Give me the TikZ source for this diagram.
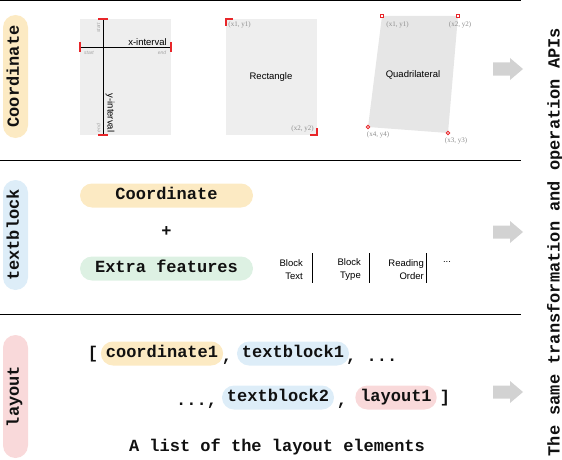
\documentclass[tikz,border=0pt]{standalone}
\usepackage{fontspec}
\setmainfont{Liberation Serif}
\setsansfont{Liberation Sans}
\setmonofont{Liberation Mono}
\usepackage{tikz}
\usetikzlibrary{positioning}
\definecolor{ink}{HTML}{111111}
\definecolor{cyel}{HTML}{FCEAC3}
\definecolor{cblue}{HTML}{DDEDF8}
\definecolor{cgreen}{HTML}{DDF1E3}
\definecolor{cpink}{HTML}{F9D9DA}
\definecolor{cpanel}{HTML}{EEEEEE}
\definecolor{cquad}{HTML}{E6E6E6}
\definecolor{carrow}{HTML}{D2D2D2}
\definecolor{cred}{HTML}{E8262A}
\definecolor{muted}{HTML}{8C8C8C}
\newcommand{\codefont}{\fontsize{17}{20}\selectfont\ttfamily\bfseries}
\tikzset{
  pill/.style={rounded corners=12pt,fill=#1,font=\codefont,text=ink,inner xsep=5pt,
               inner ysep=0pt,minimum height=24pt,text height=10.5pt,text depth=3.5pt},
  pill/.default=cyel,
  tag/.style={pill=#1,rotate=90,minimum height=25pt,rounded corners=12.5pt},
  punct/.style={font=\codefont,text=ink,inner sep=0pt},
  redtick/.style={draw=cred,line width=1.4pt},
  axlabel/.style={font=\sffamily\fontsize{9.5}{10}\selectfont,inner sep=1pt},
  hint/.style={font=\sffamily\itshape\fontsize{5}{5}\selectfont,text=muted!80,inner sep=0pt},
  ptlabel/.style={font=\fontsize{7}{7}\selectfont,text=muted,inner sep=0pt},
  cornerbox/.style={draw=cred,fill=white,line width=0.9pt,minimum size=3.5pt,inner sep=0pt},
  feat/.style={font=\sffamily\fontsize{9.5}{13}\selectfont,align=right,inner sep=0pt},
}

\begin{document}
\begin{tikzpicture}[x=1pt,y=-1pt]
  \useasboundingbox (0,0) rectangle (562,460);
  % section rules
  \foreach \ry in {0.8,160.5,314.5}
    \draw[line width=0.9pt] (0,\ry) -- (521,\ry);
  % row tags
  \node[tag=cyel,minimum width=123pt] (tcoord) at (15.5,76.5) {Coordinate};
  \node[tag=cblue,minimum width=110pt] (ttext) at (15.5,235) {textblock};
  \node[tag=cpink,minimum width=123pt] (tlayout) at (15.5,396.5) {layout};

  % coordinate: intervals
  \fill[cpanel] (80,19) rectangle (171,135);
  \draw[line width=0.9pt] (103,19) -- (103,135);
  \draw[line width=0.9pt] (80,47) -- (171,47);
  \draw[redtick] (98,19) -- (108,19) (98,135) -- (108,135)
                 (80,42) -- (80,52) (171,42) -- (171,52);
  \node[axlabel,anchor=south east] (xint) at (168,47) {x-interval};
  \node[axlabel,rotate=-90] (yint) at (110,113) {y-interval};
  \node[hint] (xstart) at (89,52.5) {start};
  \node[hint] (xend) at (162,52.5) {end};
  \node[hint,rotate=90] (ystart) at (98.5,28) {start};
  \node[hint,rotate=90] (yend) at (98.5,128) {end};

  % coordinate: rectangle
  \fill[cpanel] (226,19) rectangle (317,135);
  \draw[redtick] (226,26) -- (226,19) -- (233,19);
  \draw[redtick] (317,128) -- (317,135) -- (310,135);
  \node[axlabel] (rect) at (271,77) {Rectangle};
  \node[ptlabel] (r1) at (239.5,24.5) {(x1, y1)};
  \node[ptlabel] (r2) at (302.5,128.5) {(x2, y2)};

  % coordinate: quadrilateral
  \fill[cquad] (382,16) -- (458,16) -- (448,133) -- (368,127) -- cycle;
  \node[cornerbox] (q1) at (382,16) {};
  \node[cornerbox] (q2) at (458,16) {};
  \node[cornerbox,circle] (q3) at (448,133) {};
  \node[cornerbox,circle] (q4) at (368,127) {};
  \node[axlabel] (quad) at (413,75) {Quadrilateral};
  \node[ptlabel] (q1l) at (397.5,24.5) {(x1, y1)};
  \node[ptlabel] (q2l) at (460,25) {(x2, y2)};
  \node[ptlabel] (q3l) at (456,141) {(x3, y3)};
  \node[ptlabel] (q4l) at (378,135) {(x4, y4)};

  % textblock = coordinate + extras
  \node[pill=cyel,minimum width=173pt] (tbcoord) at (166.5,195.5) {Coordinate};
  \node[punct] (plus) at (166.5,232) {+};
  \node[pill=cgreen,minimum width=173pt] (extra) at (166.5,268.5) {Extra features};
  \foreach \i/\lab/\rx/\sx in {1/{Block\\Text}/303/312,2/{Block\\Type}/361/369,
                               3/{Reading\\Order}/424/426.5}{
    \node[feat,anchor=east] (f\i) at (\rx,269.5) {\lab};
    \draw[line width=0.8pt] (\sx,253) -- (\sx,283);
  }
  \node[feat] (fmore) at (447,262) {...};

  % layout = list of elements
  \node[punct,anchor=base] (lbrack) at (93,358) {[};
  \node[pill=cyel] (el1) at (162,353.5) {coordinate1};
  \node[punct,anchor=base] (c1) at (227,361) {,};
  \node[pill=cblue] (el2) at (293,353.5) {textblock1};
  \node[punct,anchor=base west] (c2) at (346,361) {, ...};
  \node[punct,anchor=base west] (c3) at (176,405) {...,};
  \node[pill=cblue] (el3) at (278,397.5) {textblock2};
  \node[punct,anchor=base] (c4) at (342,405) {,};
  \node[pill=cpink] (el4) at (396,397.5) {layout1};
  \node[punct,anchor=base] (rbrack) at (445,402) {]};
  \node[punct] (caption) at (277,447) {A list of the layout elements};

  % shared APIs
  \foreach \ay in {69,232,392}
    \fill[carrow] (493,\ay-6.5) -- (510,\ay-6.5) -- (510,\ay-11) -- (523,\ay)
                  -- (510,\ay+11) -- (510,\ay+6.5) -- (493,\ay+6.5) -- cycle;
  \node[punct,rotate=90] (apis) at (555,242) {The same transformation and operation APIs};
\end{tikzpicture}
\end{document}
